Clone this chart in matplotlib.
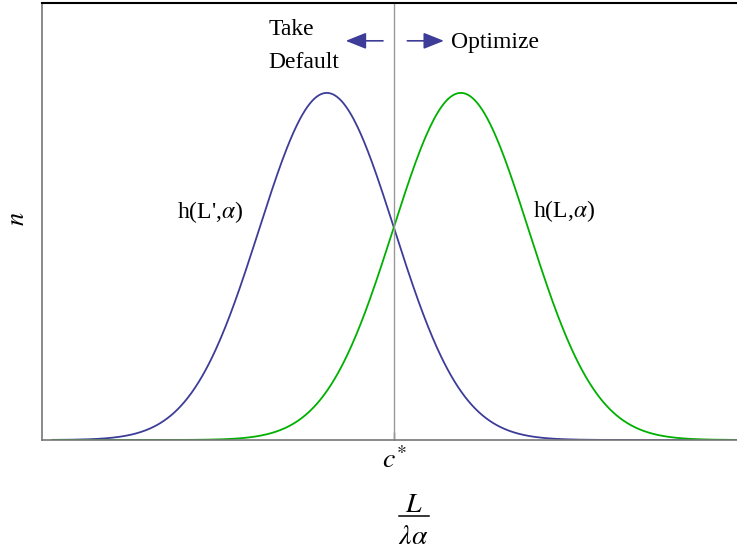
import numpy as np
import matplotlib
matplotlib.use("Agg")
import matplotlib.pyplot as plt
from matplotlib.lines import Line2D

plt.rcParams['font.family'] = ['Liberation Serif', 'DejaVu Serif']
plt.rcParams['mathtext.fontset'] = 'stix'

# two normal densities either side of the cutoff c*
curve_labels = ["h(L',$\\alpha$)", "h(L,$\\alpha$)"]
curve_means = [-1.0, 0.98]
curve_sd = [1.0, 1.0]
curve_peak = [1.0, 1.0]
curve_colors = ['#3d3d99', '#00b000']
x_range = [-5.05, 5.2]
cutoff = 0.0

fig = plt.figure(figsize=(7.37, 5.54), dpi=100)
ax = fig.add_axes([0.057, 0.2058, 0.96, 0.7888])

x = np.linspace(x_range[0], x_range[1], 600)
for m, s, p, c in zip(curve_means, curve_sd, curve_peak, curve_colors):
    ax.plot(x, p * np.exp(-(x - m) ** 2 / (2 * s ** 2)), color=c, lw=1.3)

ax.axvline(cutoff, color='#999999', lw=1.0)

ax.set_xlim(-5.206, 5.244)
ax.set_ylim(0, 1.259)
ax.set_xticks([cutoff])
ax.set_xticklabels(['$c^{*}$'], fontsize=20)
ax.set_yticks([])
ax.tick_params(axis='x', length=6, width=1.0, color='#555555', direction='in', pad=5)

ax.spines['right'].set_visible(False)
ax.spines['top'].set_color('black')
ax.spines['top'].set_linewidth(1.5)
ax.spines['left'].set_color('#777777')
ax.spines['bottom'].set_color('#777777')
ax.spines['left'].set_linewidth(1.2)
ax.spines['bottom'].set_linewidth(1.2)

# curve labels
ax.text(-2.72, 0.656, curve_labels[0], fontsize=17, ha='center', va='center')
ax.text(2.51, 0.66, curve_labels[1], fontsize=17, ha='center', va='center')

# decision arrows near the top
ax.text(-1.86, 1.183, 'Take', fontsize=17, ha='left', va='center')
ax.text(-1.86, 1.088, 'Default', fontsize=17, ha='left', va='center')
ax.text(0.84, 1.145, 'Optimize', fontsize=17, ha='left', va='center')
arrow = dict(arrowstyle='-|>,head_length=1.25,head_width=0.5', color='#3d3d99',
             lw=1.2, shrinkA=0, shrinkB=0)
ax.annotate('', xy=(-0.72, 1.15), xytext=(-0.17, 1.15), arrowprops=arrow)
ax.annotate('', xy=(0.73, 1.15), xytext=(0.19, 1.15), arrowprops=arrow)

fig.text(0.024, 0.606, '$n$', fontsize=19, rotation=90, ha='center', va='center')

# x axis label drawn as a stacked fraction L / (lambda alpha)
fig.text(414 / 737, 1 - 506 / 554, '$L$', fontsize=20, ha='center', va='center')
fig.add_artist(Line2D([399 / 737, 429 / 737], [1 - 516 / 554, 1 - 516 / 554],
                      color='black', lw=1.1))
fig.text(413 / 737, 1 - 537 / 554, r'$\lambda\alpha$', fontsize=20, ha='center', va='center')

fig.savefig('out.png', dpi=100)
